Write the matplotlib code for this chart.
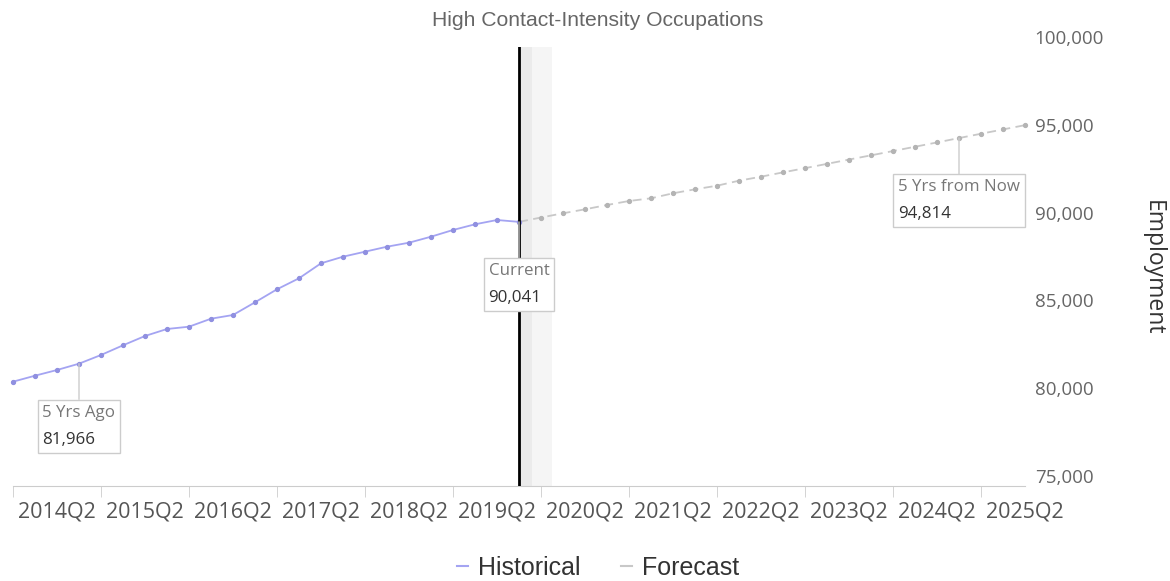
import numpy as np
import matplotlib.pyplot as plt
from matplotlib.lines import Line2D
from matplotlib.offsetbox import TextArea, VPacker, AnnotationBbox
from matplotlib.transforms import ScaledTranslation

# quarterly employment, 2013Q4 .. 2025Q2
historical = [80940, 81281, 81606, 81966, 82460, 83012, 83542, 83941,
              84072, 84527, 84738, 85461, 86202, 86828, 87682, 88058,
              88343, 88628, 88855, 89197, 89579, 89903, 90148, 90041]
forecast = [90041, 90290, 90530, 90757, 91002, 91230, 91384, 91669,
            91896, 92101, 92386, 92614, 92860, 93100, 93345, 93590,
            93830, 94075, 94320, 94565, 94814, 95060, 95305, 95550]
tick_labels = ['2014Q2', '2015Q2', '2016Q2', '2017Q2', '2018Q2', '2019Q2',
               '2020Q2', '2021Q2', '2022Q2', '2023Q2', '2024Q2', '2025Q2']
y_ticks = [75000, 80000, 85000, 90000, 95000, 100000]
# (label, index, value)
callouts = [('5 Yrs Ago', 3, 81966), ('Current', 23, 90041), ('5 Yrs from Now', 43, 94814)]

FONT = 'Open Sans'

fig = plt.figure(figsize=(11.7, 5.81), dpi=100)
ax = fig.add_axes([13/1170, 1-486/581, (1025-13)/1170, (486-47)/581])

xh = np.arange(len(historical))
xf = np.arange(len(historical)-1, len(historical)-1+len(forecast))

cur = 23
ax.axvspan(cur, cur+0.6, color='#ebebeb', lw=0, zorder=1)
ax.axvspan(cur+0.6, cur+1.5, color='#f5f5f5', lw=0, zorder=1)
ax.axvline(cur, color='black', lw=2, zorder=3)

ax.plot(xf, forecast, color='#c8c8c8', lw=1.3, ls=(0, (5, 3)), marker='o', ms=2.8,
        mfc='#b4b4b4', mec='#b4b4b4', zorder=2, clip_on=False)
ax.plot(xh, historical, color='#a4a4f2', lw=1.3, marker='o', ms=2.8,
        mfc='#9090e0', mec='#9090e0', zorder=2, clip_on=False)

ax.set_xlim(0, 46)
ax.set_ylim(75000, 100000)

for s in ['top', 'left', 'right']:
    ax.spines[s].set_visible(False)
ax.spines['bottom'].set_color('#cccccc')

ax.set_xticks(np.arange(2, 47, 4))
ax.set_xticklabels(tick_labels, fontfamily=FONT, fontsize=15.5, color='#555555')
ax.set_xticks(np.arange(0, 45, 4), minor=True)
ax.tick_params(axis='x', which='major', length=0, pad=11)
ax.tick_params(axis='x', which='minor', length=8, color='#cccccc')

ax.yaxis.tick_right()
ax.set_yticks(y_ticks)
ax.set_yticklabels([f'{v:,}' for v in y_ticks], fontfamily=FONT, fontsize=13.5, color='#666666')
ax.tick_params(axis='y', length=0, pad=7)
shift = ScaledTranslation(0, 0.10, fig.dpi_scale_trans)
for lab in ax.get_yticklabels():
    lab.set_transform(lab.get_transform() + shift)

fig.text(1153/1170, 1-268/581, 'Employment', rotation=-90, ha='center', va='center',
         fontfamily=FONT, fontsize=16.5, color='#333333')
fig.text(598/1170, 1-20/581, 'High Contact-Intensity Occupations', ha='center', va='center',
         fontfamily='Liberation Sans', fontsize=15.2, color='#666666')

for name, idx, val in callouts:
    box = VPacker(children=[TextArea(name, textprops=dict(color='#777777', fontfamily=FONT, fontsize=12.2)),
                            TextArea(f'{val:,}', textprops=dict(color='#333333', fontfamily=FONT, fontsize=12.2))],
                  align='left', pad=0, sep=8)
    ab = AnnotationBbox(box, (idx, val), xybox=(0, -41*0.72), xycoords='data',
                        boxcoords='offset points', box_alignment=(0.5, 1), pad=0.35,
                        bboxprops=dict(ec='#cccccc', fc='white', lw=1),
                        arrowprops=dict(arrowstyle='-', color='#cccccc', lw=1, shrinkA=0, shrinkB=0),
                        zorder=5)
    ax.add_artist(ab)

handles = [Line2D([], [], color='#a4a4f2', lw=1.5), Line2D([], [], color='#c8c8c8', lw=1.5)]
fig.legend(handles, ['Historical', 'Forecast'], loc='center', bbox_to_anchor=(598/1170, 1-568/581),
           ncol=2, frameon=False, handlelength=0.45, handletextpad=0.4, columnspacing=1.6,
           prop=dict(family='Liberation Sans', size=18), labelcolor='#333333')

fig.savefig('out.png', dpi=100, facecolor='white')
